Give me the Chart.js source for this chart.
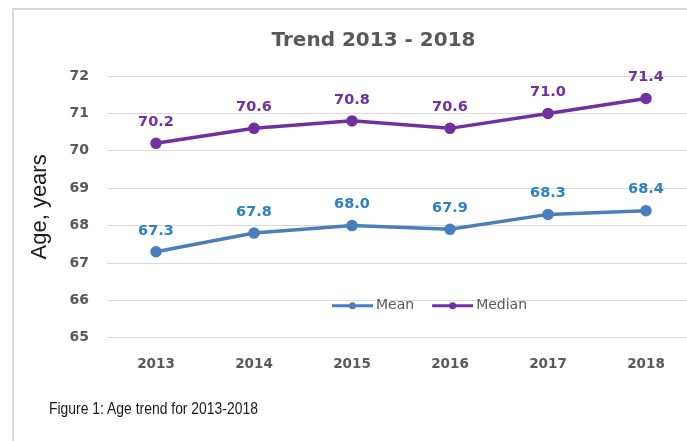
<!DOCTYPE html>
<html>
<head>
<meta charset="utf-8">
<script src="https://cdn.jsdelivr.net/npm/chart.js@4.4.1/dist/chart.umd.min.js"></script>
<style>
  html, body { margin:0; padding:0; background:#fff; width:687px; height:441px; overflow:hidden; position:relative; }
  #frame { position:absolute; left:12px; top:8px; width:800px; height:600px; border-left:2px solid #d9d9d9; border-top:2px solid #d9d9d9; box-sizing:border-box; }
  #wrap { position:absolute; left:13px; top:10px; width:721px; height:392px; }
  #caption { position:absolute; left:49px; top:400px; font-family:"Liberation Sans", Arial, sans-serif; font-size:16px; color:#1a1a1a; transform:scaleX(0.87); transform-origin:left top; white-space:nowrap; }
</style>
</head>
<body>
<div id="frame"></div>
<div id="wrap"><canvas id="c"></canvas></div>
<div id="caption">Figure 1: Age trend for 2013-2018</div>
<script>
const years = ["2013", "2014", "2015", "2016", "2017", "2018"];
const meanValues = [67.3, 67.8, 68.0, 67.9, 68.3, 68.4];
const medianValues = [70.2, 70.6, 70.8, 70.6, 71.0, 71.4];
const seriesNames = ["Mean", "Median"];
const yMin = 65, yMax = 72, yStep = 1;

const MEAN_LINE = "#4A7EBB", MEAN_LABEL = "#2E80C4";
const MED_LINE = "#7030A0", MED_LABEL = "#7030A0";
const LABEL_COLORS = [MEAN_LABEL, MED_LABEL];

const dataLabels = {
  id: "dataLabels",
  afterDatasetsDraw(chart) {
    const ctx = chart.ctx;
    ctx.save();
    ctx.font = "bold 14.5px 'DejaVu Sans'";
    ctx.textAlign = "center";
    ctx.textBaseline = "middle";
    chart.data.datasets.forEach((ds, i) => {
      const meta = chart.getDatasetMeta(i);
      ctx.fillStyle = LABEL_COLORS[i];
      meta.data.forEach((pt, j) => {
        ctx.fillText(ds.data[j].toFixed(1), pt.x, pt.y - 21);
      });
    });
    ctx.restore();
  }
};

const innerLegend = {
  id: "innerLegend",
  afterDraw(chart) {
    const ctx = chart.ctx;
    const a = chart.chartArea;
    let x = a.left + 225;
    const y = a.bottom - 32;
    ctx.save();
    ctx.font = "14px 'DejaVu Sans'";
    ctx.textBaseline = "middle";
    chart.data.datasets.forEach((ds, i) => {
      ctx.strokeStyle = ds.borderColor;
      ctx.lineWidth = 3;
      ctx.beginPath();
      ctx.moveTo(x, y);
      ctx.lineTo(x + 41, y);
      ctx.stroke();
      ctx.fillStyle = ds.borderColor;
      ctx.beginPath();
      ctx.arc(x + 20.5, y, 3.5, 0, Math.PI * 2);
      ctx.fill();
      ctx.fillStyle = "#595959";
      ctx.textAlign = "left";
      ctx.fillText(ds.label, x + 44, y);
      x += 44 + ctx.measureText(ds.label).width + 18;
    });
    ctx.restore();
  }
};

new Chart(document.getElementById("c"), {
  type: "line",
  data: {
    labels: years,
    datasets: [
      { label: seriesNames[0], data: meanValues, borderColor: MEAN_LINE, backgroundColor: MEAN_LINE,
        borderWidth: 3.5, pointRadius: 4, pointBackgroundColor: MEAN_LINE, pointBorderColor: MEAN_LINE, tension: 0 },
      { label: seriesNames[1], data: medianValues, borderColor: MED_LINE, backgroundColor: MED_LINE,
        borderWidth: 3.5, pointRadius: 4, pointBackgroundColor: MED_LINE, pointBorderColor: MED_LINE, tension: 0 }
    ]
  },
  options: {
    responsive: true,
    maintainAspectRatio: false,
    animation: false,
    devicePixelRatio: 1,
    layout: { padding: { top: 5, bottom: 10, left: 0, right: 0 } },
    plugins: {
      legend: { display: false },
      tooltip: { enabled: false },
      title: {
        display: true,
        text: "Trend 2013 - 2018",
        color: "#595959",
        font: { family: "'DejaVu Sans'", size: 20, weight: "bold" },
        padding: { top: 14, bottom: 23 }
      }
    },
    scales: {
      x: {
        offset: true,
        grid: { display: false, drawTicks: false },
        border: { display: false },
        ticks: { color: "#595959", font: { family: "'DejaVu Sans'", size: 13.5, weight: "bold" }, padding: 19 }
      },
      y: {
        min: yMin, max: yMax,
        grid: { color: "#d9d9d9", lineWidth: 1, drawTicks: false },
        border: { display: false },
        ticks: { stepSize: yStep, color: "#595959", font: { family: "'DejaVu Sans'", size: 14, weight: "bold" }, padding: 18 },
        title: { display: true, text: "Age, years", color: "#1a1a1a",
                 font: { family: "'Liberation Sans'", size: 22, weight: "normal" }, padding: { top: 14, bottom: 0 } },
        afterFit(s) { s.width = 94; }
      },
      y2: {
        position: "right",
        display: true,
        grid: { display: false, drawTicks: false },
        border: { display: false },
        ticks: { display: false },
        afterFit(s) { s.width = 39; }
      }
    }
  },
  plugins: [dataLabels, innerLegend]
});
</script>
</body>
</html>
